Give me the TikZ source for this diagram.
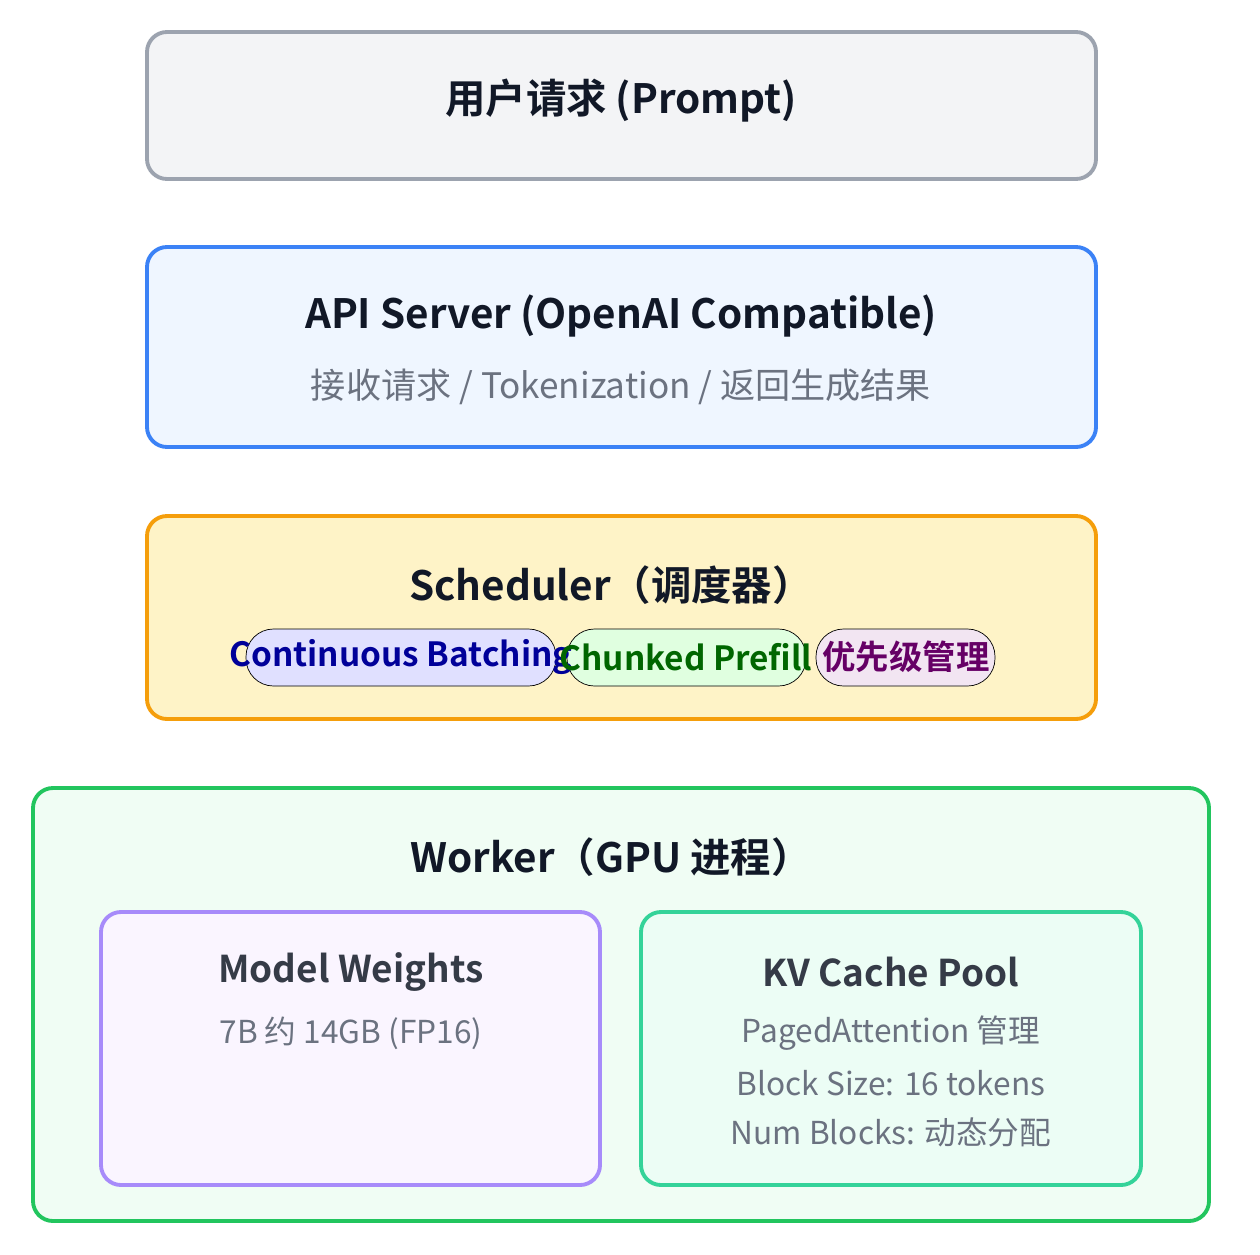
\documentclass[tikz,border=0pt]{standalone}
\usepackage{fontspec}
\setmainfont{Noto Sans CJK SC}[BoldFont={Noto Sans CJK SC Bold}]
\definecolor{grayfill}{HTML}{F3F4F6}
\definecolor{grayline}{HTML}{9CA3AF}
\definecolor{bluefill}{HTML}{EFF6FF}
\definecolor{blueline}{HTML}{3B82F6}
\definecolor{yellowfill}{HTML}{FEF3C7}
\definecolor{yellowline}{HTML}{F59E0B}
\definecolor{greenfill}{HTML}{F0FDF4}
\definecolor{greenline}{HTML}{22C55E}
\definecolor{purplefill}{HTML}{FAF5FF}
\definecolor{purpleline}{HTML}{A78BFA}
\definecolor{mintfill}{HTML}{ECFDF5}
\definecolor{mintline}{HTML}{34D399}
\definecolor{subtext}{HTML}{6B7280}
\definecolor{titletext}{HTML}{111827}
\begin{document}
\begin{tikzpicture}[x=0.02cm,y=-0.02cm,
  box/.style={rounded corners=0.4cm,line width=2.2pt},
  title/.style={font=\fontsize{23}{27}\selectfont\bfseries,text=titletext},
  subtitle/.style={font=\fontsize{20}{24}\selectfont,text=subtext},
  inner/.style={font=\fontsize{21}{25}\selectfont\bfseries,text=titletext!85},
  info/.style={font=\fontsize{18}{22}\selectfont,text=subtext},
  pill/.style={rounded corners=0.55cm,font=\fontsize{19}{23}\selectfont\bfseries}]
\useasboundingbox (0,0) rectangle (1260,1254);
% layers
\draw[box,fill=grayfill,draw=grayline]     (147,32)  rectangle (1096,179);
\draw[box,fill=bluefill,draw=blueline]     (147,247) rectangle (1096,447);
\draw[box,fill=yellowfill,draw=yellowline] (147,516) rectangle (1096,719);
\draw[box,fill=greenfill,draw=greenline]   (33,788)  rectangle (1209,1221);
\draw[box,fill=purplefill,draw=purpleline] (101,912) rectangle (600,1185);
\draw[box,fill=mintfill,draw=mintline]     (641,912) rectangle (1141,1185);
% texts
\node[title]    (prompt) at (621,101)  {用户请求 (Prompt)};
\node[title]    (api)    at (621,316)  {API Server (OpenAI Compatible)};
\node[subtitle] (apisub) at (621,387)  {接收请求 / Tokenization / 返回生成结果};
\node[title]    (sched)  at (611,585)  {Scheduler（调度器）};
\draw[pill,fill=blue!12]  (246,629) rectangle (556,686);
\draw[pill,fill=green!12] (567,629) rectangle (806,686);
\draw[pill,fill=violet!10](816,629) rectangle (995,686);
\node[pill,text=blue!60!black]   (cb)  at (401,657) {Continuous Batching};
\node[pill,text=green!40!black]  (cp)  at (686,657) {Chunked Prefill};
\node[pill,text=violet!80!black] (pri) at (906,657) {优先级管理};
\node[title]    (worker) at (611,857)  {Worker（GPU 进程）};
\node[inner]    (mw)     at (351,972)  {Model Weights};
\node[info]     (mwsub)  at (351,1033) {7B 约 14GB (FP16)};
\node[inner]    (kv)     at (891,972)  {KV Cache Pool};
\node[info]     (kv1)    at (891,1033) {PagedAttention 管理};
\node[info]     (kv2)    at (891,1083) {Block Size: 16 tokens};
\node[info]     (kv3)    at (891,1132) {Num Blocks: 动态分配};
\end{tikzpicture}
\end{document}
